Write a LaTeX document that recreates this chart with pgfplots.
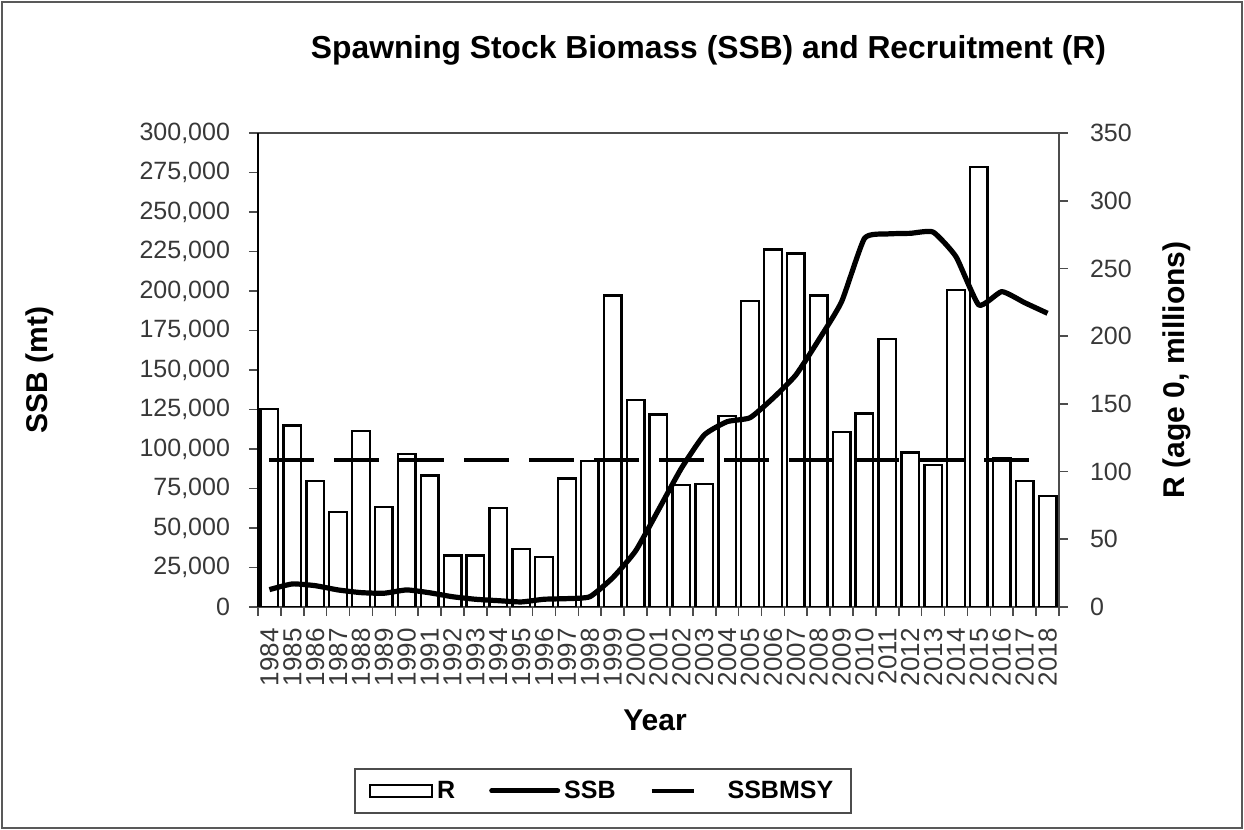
\documentclass[border=0pt]{standalone}
\usepackage{pgfplots}
\usepackage{pgfplotstable}
\pgfplotsset{compat=1.18}
\usepackage{fontspec}
\setmainfont{Liberation Sans}

\pgfplotstableread{
idx year R SSB
0 1984 146 11000
1 1985 134 14600
2 1986 93 13500
3 1987 70 10800
4 1988 130 9100
5 1989 74 8700
6 1990 113 10800
7 1991 97 9000
8 1992 38 6500
9 1993 38 4900
10 1994 73 4000
11 1995 43 3200
12 1996 37 4900
13 1997 95 5300
14 1998 108 6500
15 1999 230 18500
16 2000 153 35500
17 2001 142 61500
18 2002 90 87800
19 2003 91 108900
20 2004 141 117300
21 2005 226 119800
22 2006 264 132100
23 2007 261 146800
24 2008 230 169000
25 2009 129 193200
26 2010 143 233300
27 2011 198 236100
28 2012 114 236500
29 2013 105 237300
30 2014 234 221700
31 2015 325 191100
32 2016 110 199600
33 2017 93 192600
34 2018 82 185900
}\datatable

\pgfplotstableread{
x y
0 93000
34 93000
}\msytable

\definecolor{axgray}{gray}{0.3}
\definecolor{txtgray}{gray}{0.22}

\begin{document}
\begin{tikzpicture}
\useasboundingbox (0,0) rectangle (622pt,415pt);
\draw[gray!70!black, line width=1pt] (1pt,1pt) rectangle (621pt,414pt);

\pgfplotsset{
  common/.style={
    at={(129pt,111.5pt)}, anchor=south west,
    width=400.5pt, height=237pt, scale only axis,
    xmin=-0.5, xmax=34.5,
    tick align=outside,
    major tick length=4.5pt, minor tick length=4.5pt,
    every tick/.style={axgray, line width=0.8pt},
    tick label style={font=\fontsize{12.5}{14}\selectfont, text=txtgray},
    /pgf/number format/assume math mode=true,
  }
}

% bars (right axis)
\begin{axis}[common,
  ymin=0, ymax=350,
  ytick={0,50,...,350},
  ytick pos=right,
  xtick={0,...,34},
  xticklabels={1984,1985,1986,1987,1988,1989,1990,1991,1992,1993,1994,1995,1996,1997,1998,1999,2000,2001,2002,2003,2004,2005,2006,2007,2008,2009,2010,2011,2012,2013,2014,2015,2016,2017,2018},
  xtick pos=bottom,
  major x tick style={draw=none},
  minor xtick={-0.5,0.5,...,34.5},
  xticklabel style={rotate=90, anchor=east, inner sep=1pt, xshift=-5pt, font=\fontsize{13}{14}\selectfont},
  axis line style={axgray, line width=0.8pt},
  yticklabel style={anchor=west, xshift=7.5pt},
]
\addplot[ybar, bar width=8.8pt, fill=white, draw=black, line width=1.2pt] table[x=idx, y=R] {\datatable};
\end{axis}

% lines (left axis)
\begin{axis}[common,
  ymin=0, ymax=300000,
  ytick={0,25000,...,300000},
  scaled y ticks=false,
  yticklabel style={/pgf/number format/fixed, /pgf/number format/1000 sep={,}, xshift=-6pt},
  axis y line*=left,
  axis x line=none,
  axis line style={black, line width=0.9pt},
  legend columns=3,
  legend style={at={(0.4307,-0.388)}, anchor=center, draw=gray!60!black, line width=0.9pt,
    font=\bfseries\fontsize{12.5}{14}\selectfont, inner xsep=7pt, inner ysep=4pt,
    /tikz/every even column/.append style={column sep=15pt}},
]
\addlegendimage{legend image code/.code={\draw[black, line width=1.2pt, fill=white] (0pt,-3pt) rectangle (31pt,3pt);}}
\addlegendentry{R}
\addlegendimage{legend image code/.code={\draw[black, line width=2.5pt, line cap=round] (0pt,0pt) -- (33pt,0pt);}}
\addlegendentry{SSB}
\addlegendimage{legend image code/.code={\draw[black, line width=2pt] (0pt,0pt) -- (21pt,0pt); \path[draw=none] (0pt,0pt) -- (36pt,0pt);}}
\addlegendentry{SSBMSY}
\addplot[black, line width=2pt, dash pattern=on 22.5pt off 10pt, forget plot] table[x=x, y=y] {\msytable};
\addplot[black, line width=2.6pt, smooth, tension=0.3, line join=round, forget plot] table[x=idx, y=SSB] {\datatable};
\end{axis}

\node[font=\bfseries\fontsize{15.9}{18}\selectfont] at (354.25pt,390pt) {Spawning Stock Biomass (SSB) and Recruitment (R)};
\node[font=\bfseries\fontsize{15}{18}\selectfont, rotate=90] at (20pt,230pt) {SSB (mt)};
\node[font=\bfseries\fontsize{15}{18}\selectfont, rotate=90] at (588.5pt,230pt) {R (age 0, millions)};
\node[font=\bfseries\fontsize{15}{18}\selectfont] at (327.5pt,55pt) {Year};
\end{tikzpicture}
\end{document}
